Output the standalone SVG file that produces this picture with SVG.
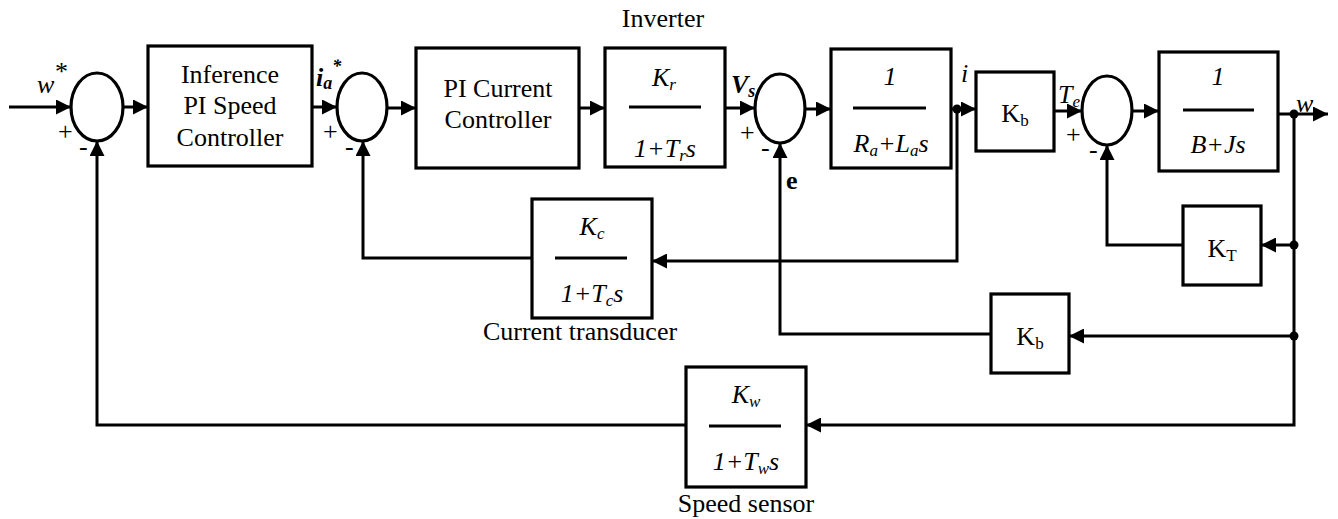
<svg xmlns="http://www.w3.org/2000/svg" width="1338" height="519" viewBox="0 0 1338 519" font-family="'Liberation Serif', serif">
<defs>
<style>
.box{fill:#fff;stroke:#000;stroke-width:3.2}
.sum{fill:none;stroke:#000;stroke-width:3.2}
.frac{stroke:#000;stroke-width:3}
.ln{fill:none;stroke:#000;stroke-width:3;stroke-linejoin:miter}
.arr{marker-end:url(#ah)}
text{font-family:'Liberation Serif',serif;font-size:26px;fill:#000}
.it{font-style:italic}
.bi{font-style:italic;font-weight:bold}
.c{text-anchor:middle}
.sg{font-size:26px}
</style>
<marker id="ah" markerUnits="userSpaceOnUse" markerWidth="15" markerHeight="15" refX="15" refY="7.5" orient="auto">
<path d="M0,0 L15,7.5 L0,15 z" fill="#000"/>
</marker>
</defs>
<rect width="1338" height="519" fill="#fff"/>

<g id="connectors">
<path class="ln arr" d="M9,107 H71"/>
<path class="ln arr" d="M123,107 H148"/>
<path class="ln arr" d="M312,107 H337"/>
<path class="ln arr" d="M387,108 H416"/>
<path class="ln arr" d="M579,108 H605"/>
<path class="ln arr" d="M725,108 H755"/>
<path class="ln arr" d="M805,109 H831"/>
<path class="ln arr" d="M951,109 H976"/>
<path class="ln arr" d="M1054,111 H1082"/>
<path class="ln arr" d="M1132,111 H1159"/>
<path class="ln arr" d="M1278,114 H1328"/>
<path class="ln arr" d="M1294,114 V425 H806"/>
<path class="ln arr" d="M1294,245 H1261"/>
<path class="ln arr" d="M1183,245 H1107 V145"/>
<path class="ln arr" d="M1294,336 H1069"/>
<path class="ln arr" d="M991,334 H780 V143"/>
<path class="ln arr" d="M957,109 V261 H652"/>
<path class="ln arr" d="M532,258 H363 V141"/>
<path class="ln arr" d="M686,425 H97 V141"/>
<circle cx="957" cy="109" r="4.5"/>
<circle cx="1294" cy="114" r="4.5"/>
<circle cx="1294" cy="245" r="4.5"/>
<circle cx="1294" cy="336" r="4.5"/>
</g>

<g id="sum1">
<ellipse class="sum" cx="97" cy="107" rx="26" ry="34"/>
<text class="it" x="37" y="93">w</text>
<text x="55" y="80" font-size="16">*</text>
<text class="sg" x="58" y="140">+</text>
<text class="sg" x="79" y="155">-</text>
</g>

<g id="speed-controller">
<rect class="box" x="148" y="46" width="164" height="120"/>
<text class="c" x="230" y="83">Inference</text>
<text class="c" x="230" y="114">PI Speed</text>
<text class="c" x="230" y="146">Controller</text>
</g>

<g id="sum2">
<ellipse class="sum" cx="362" cy="107" rx="25" ry="34"/>
<text class="bi" x="316" y="86">i<tspan font-size="18" dy="3">a</tspan><tspan font-size="18" dy="-17">*</tspan></text>
<text class="sg" x="323" y="140">+</text>
<text class="sg" x="345" y="155">-</text>
</g>

<g id="current-controller">
<rect class="box" x="416" y="48" width="163" height="120"/>
<text class="c" x="498" y="97">PI Current</text>
<text class="c" x="498" y="128">Controller</text>
</g>

<g id="inverter">
<rect class="box" x="605" y="48" width="120" height="119"/>
<text class="c" x="663" y="27">Inverter</text>
<text class="c it" x="664" y="86">K<tspan font-size="17" dy="4">r</tspan></text>
<line class="frac" x1="629" y1="107" x2="701" y2="107"/>
<text class="c it" x="665" y="157">1+T<tspan font-size="17" dy="4">r</tspan><tspan dy="-4">s</tspan></text>
</g>

<g id="sum3">
<ellipse class="sum" cx="780" cy="108.5" rx="25" ry="34.5"/>
<text class="bi" x="731" y="93">V<tspan font-size="18" dy="4">s</tspan></text>
<text class="sg" x="740" y="141">+</text>
<text class="sg" x="761" y="156">-</text>
<text x="786" y="189" font-weight="bold">e</text>
</g>

<g id="armature">
<rect class="box" x="831" y="49" width="120" height="119"/>
<text class="c it" x="890" y="85">1</text>
<line class="frac" x1="853" y1="108" x2="926" y2="108"/>
<text class="c it" x="891" y="152">R<tspan font-size="17" dy="4">a</tspan><tspan dy="-4">+L</tspan><tspan font-size="17" dy="4">a</tspan><tspan dy="-4">s</tspan></text>
<text class="it" x="961" y="82">i</text>
</g>

<g id="kb-torque">
<rect class="box" x="976" y="72" width="78" height="79"/>
<text class="c" x="1015" y="122">K<tspan font-size="17" dy="4">b</tspan></text>
</g>

<g id="sum4">
<ellipse class="sum" cx="1107" cy="110.5" rx="25" ry="34.5"/>
<text class="it" x="1058" y="103">T<tspan font-size="17" dy="4">e</tspan></text>
<text class="sg" x="1066" y="143">+</text>
<text class="sg" x="1089" y="158">-</text>
</g>

<g id="mechanical">
<rect class="box" x="1159" y="52" width="119" height="119"/>
<text class="c it" x="1218" y="85">1</text>
<line class="frac" x1="1183" y1="110" x2="1254" y2="110"/>
<text class="c it" x="1218" y="153">B+Js</text>
<text class="it" x="1296" y="112">w</text>
</g>

<g id="kt">
<rect class="box" x="1183" y="206" width="78" height="79"/>
<text class="c" x="1222" y="257">K<tspan font-size="17" dy="4">T</tspan></text>
</g>

<g id="current-transducer">
<rect class="box" x="532" y="199" width="120" height="119"/>
<text class="c it" x="592" y="235">K<tspan font-size="17" dy="4">c</tspan></text>
<line class="frac" x1="555" y1="258" x2="627" y2="258"/>
<text class="c it" x="592" y="302">1+T<tspan font-size="17" dy="4">c</tspan><tspan dy="-4">s</tspan></text>
<text class="c" x="580" y="340">Current transducer</text>
</g>

<g id="kb-emf">
<rect class="box" x="991" y="294" width="78" height="79"/>
<text class="c" x="1030" y="345">K<tspan font-size="17" dy="4">b</tspan></text>
</g>

<g id="speed-sensor">
<rect class="box" x="686" y="367" width="120" height="120"/>
<text class="c it" x="746" y="403">K<tspan font-size="17" dy="4">w</tspan></text>
<line class="frac" x1="709" y1="426" x2="781" y2="426"/>
<text class="c it" x="746" y="470">1+T<tspan font-size="17" dy="4">w</tspan><tspan dy="-4">s</tspan></text>
<text class="c" x="746" y="512">Speed sensor</text>
</g>
</svg>
